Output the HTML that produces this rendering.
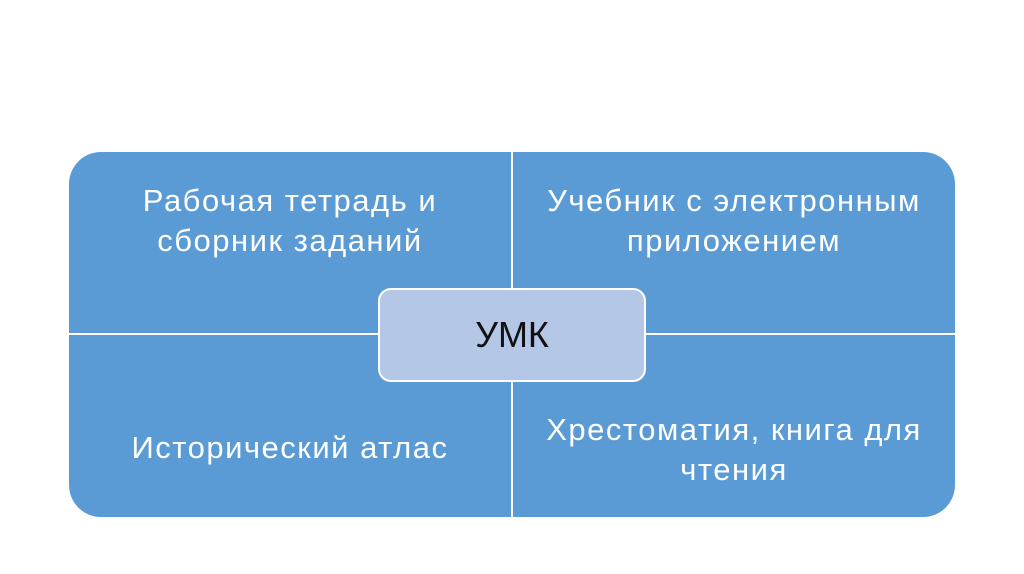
<!DOCTYPE html>
<html><head><meta charset="utf-8"><style>
body{margin:0;width:1024px;height:574px;background:#fff;position:relative;overflow:hidden;font-family:"Liberation Sans",sans-serif}
.q{position:absolute;background:#5b9bd5}
.t{position:absolute;color:#fff;font-size:31px;letter-spacing:1.5px;line-height:40px;text-align:center;white-space:nowrap}
</style></head><body>
<div class="q" style="left:69px;top:152px;width:442px;height:181px;border-top-left-radius:32px"></div>
<div class="q" style="left:513px;top:152px;width:442px;height:181px;border-top-right-radius:32px"></div>
<div class="q" style="left:69px;top:335px;width:442px;height:182px;border-bottom-left-radius:32px"></div>
<div class="q" style="left:513px;top:335px;width:442px;height:182px;border-bottom-right-radius:32px"></div>
<div class="t" style="left:69px;width:442px;top:181px">Рабочая тетрадь и<br>сборник заданий</div>
<div class="t" style="left:513px;width:442px;top:181px">Учебник с электронным<br>приложением</div>
<div class="t" style="left:69px;width:442px;top:428px">Исторический атлас</div>
<div class="t" style="left:513px;width:442px;top:410px">Хрестоматия, книга для<br>чтения</div>
<div style="position:absolute;left:378px;top:288px;width:264px;height:90px;background:#b4c7e7;border:2px solid #fff;border-radius:13px;color:#111;font-size:36px;line-height:90px;text-align:center">УМК</div>
</body></html>
